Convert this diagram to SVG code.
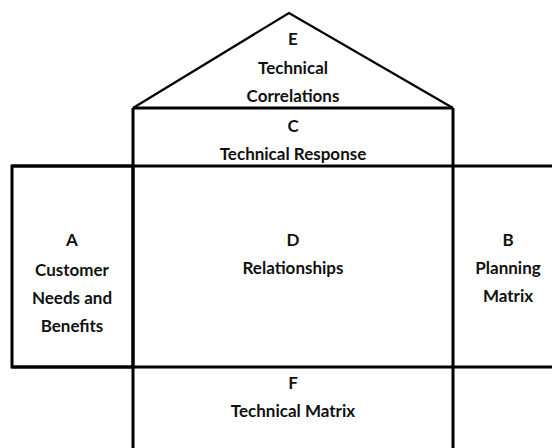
<svg xmlns="http://www.w3.org/2000/svg" width="552" height="448" viewBox="0 0 552 448">
<style>
.ln{stroke:#000;stroke-width:3;fill:none}
.roof{stroke:#000;stroke-width:2.2;fill:none}
text{font-family:Lato,"Open Sans","Liberation Sans",sans-serif;font-weight:700;font-size:17px;fill:#111;text-anchor:middle}
</style>
<rect width="552" height="448" fill="#fff"/>
<g id="E">
<polyline class="roof" points="133,108 289,13 453,108"/>
<text x="293" y="45">E</text>
<text x="293" y="74">Technical</text>
<text x="293" y="102">Correlations</text>
</g>
<g id="C">
<line class="ln" x1="133" y1="108" x2="453" y2="108"/>
<text x="293" y="132">C</text>
<text x="293" y="160">Technical Response</text>
</g>
<g id="A">
<rect class="ln" x="12" y="166" width="121" height="201"/>
<text x="72" y="246">A</text>
<text x="72" y="276">Customer</text>
<text x="72" y="304">Needs and</text>
<text x="72" y="332">Benefits</text>
</g>
<g id="D">
<line class="ln" x1="133" y1="108" x2="133" y2="448"/>
<line class="ln" x1="453" y1="108" x2="453" y2="448"/>
<line class="ln" x1="12" y1="166" x2="552" y2="166"/>
<line class="ln" x1="12" y1="367" x2="552" y2="367"/>
<text x="293" y="246">D</text>
<text x="293" y="274">Relationships</text>
</g>
<g id="B">
<text x="508" y="246">B</text>
<text x="508" y="274">Planning</text>
<text x="508" y="302">Matrix</text>
</g>
<g id="F">
<text x="293" y="389">F</text>
<text x="293" y="417">Technical Matrix</text>
</g>
<g id="connectors"></g>
</svg>
